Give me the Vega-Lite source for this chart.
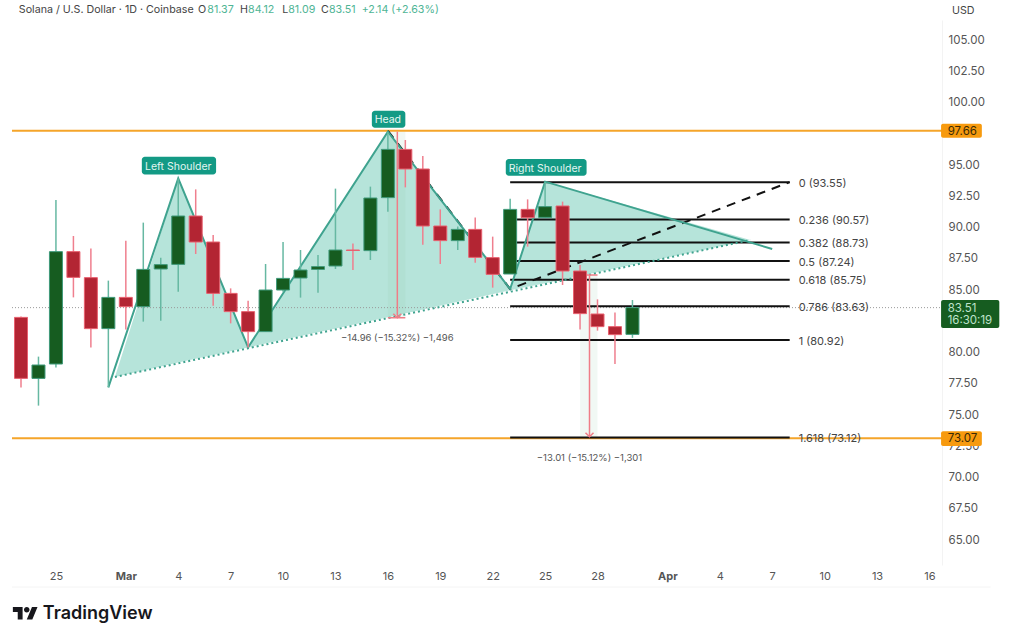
{
  "$schema": "https://vega.github.io/schema/vega-lite/v6.json",
  "width": 930,
  "height": 545,
  "autosize": "none",
  "padding": {"left": 12, "top": 20, "right": 82, "bottom": 67},
  "background": "white",
  "config": {
    "view": {"stroke": null},
    "text": {"font": "Inter", "dy": 1},
    "axis": {"labelFont": "Inter"}
  },
  "datasets": {
    "candles": [
      {"date": "2026-02-23", "open": 82.73, "high": 82.8, "low": 77.13, "close": 77.85},
      {"date": "2026-02-24", "open": 77.85, "high": 79.59, "low": 75.67, "close": 78.92},
      {"date": "2026-02-25", "open": 79.0, "high": 92.12, "low": 78.73, "close": 87.99},
      {"date": "2026-02-26", "open": 87.99, "high": 89.24, "low": 84.33, "close": 85.93},
      {"date": "2026-02-27", "open": 85.91, "high": 88.25, "low": 80.33, "close": 81.83},
      {"date": "2026-02-28", "open": 81.83, "high": 85.67, "low": 77.13, "close": 84.33},
      {"date": "2026-03-01", "open": 84.33, "high": 88.87, "low": 81.77, "close": 83.59},
      {"date": "2026-03-02", "open": 83.59, "high": 90.31, "low": 82.39, "close": 86.57},
      {"date": "2026-03-03", "open": 86.6, "high": 87.51, "low": 82.47, "close": 86.95},
      {"date": "2026-03-04", "open": 86.97, "high": 93.85, "low": 84.79, "close": 90.84},
      {"date": "2026-03-05", "open": 90.84, "high": 92.97, "low": 87.8, "close": 88.76},
      {"date": "2026-03-06", "open": 88.76, "high": 89.32, "low": 83.67, "close": 84.65},
      {"date": "2026-03-07", "open": 84.65, "high": 85.05, "low": 82.25, "close": 83.19},
      {"date": "2026-03-08", "open": 83.19, "high": 84.07, "low": 80.33, "close": 81.59},
      {"date": "2026-03-09", "open": 81.59, "high": 87.0, "low": 81.59, "close": 84.92},
      {"date": "2026-03-10", "open": 84.92, "high": 88.76, "low": 84.79, "close": 85.85},
      {"date": "2026-03-11", "open": 85.88, "high": 88.12, "low": 84.31, "close": 86.52},
      {"date": "2026-03-12", "open": 86.57, "high": 87.72, "low": 84.71, "close": 86.79},
      {"date": "2026-03-13", "open": 86.84, "high": 93.03, "low": 86.6, "close": 88.12},
      {"date": "2026-03-14", "open": 88.12, "high": 88.65, "low": 86.52, "close": 88.08},
      {"date": "2026-03-15", "open": 88.07, "high": 93.19, "low": 87.32, "close": 92.28},
      {"date": "2026-03-16", "open": 92.31, "high": 97.59, "low": 91.19, "close": 96.17},
      {"date": "2026-03-17", "open": 96.17, "high": 96.92, "low": 93.13, "close": 94.6},
      {"date": "2026-03-18", "open": 94.6, "high": 95.64, "low": 88.55, "close": 90.04},
      {"date": "2026-03-19", "open": 90.04, "high": 91.37, "low": 87.0, "close": 88.87},
      {"date": "2026-03-20", "open": 88.87, "high": 90.0, "low": 88.12, "close": 89.77},
      {"date": "2026-03-21", "open": 89.77, "high": 90.73, "low": 87.11, "close": 87.53},
      {"date": "2026-03-22", "open": 87.51, "high": 89.19, "low": 85.11, "close": 86.17},
      {"date": "2026-03-23", "open": 86.2, "high": 92.23, "low": 86.2, "close": 91.37},
      {"date": "2026-03-24", "open": 91.37, "high": 92.17, "low": 88.39, "close": 90.71},
      {"date": "2026-03-25", "open": 90.73, "high": 93.59, "low": 90.73, "close": 91.59},
      {"date": "2026-03-26", "open": 91.64, "high": 91.99, "low": 85.32, "close": 86.44},
      {"date": "2026-03-27", "open": 86.44, "high": 86.92, "low": 81.77, "close": 83.03},
      {"date": "2026-03-28", "open": 83.0, "high": 84.17, "low": 81.67, "close": 81.99},
      {"date": "2026-03-29", "open": 81.99, "high": 83.13, "low": 79.0, "close": 81.35},
      {"date": "2026-03-30", "open": 81.37, "high": 84.12, "low": 81.09, "close": 83.51}
    ],
    "pattern_fill": [
      {"date": "2026-02-28T09:00:00Z", "price": 77.96, "price2": 77.96},
      {"date": "2026-03-04", "price": 93.85, "price2": 79.13},
      {"date": "2026-03-08", "price": 80.33, "price2": 80.33},
      {"date": "2026-03-16", "price": 97.59, "price2": 82.74},
      {"date": "2026-03-23", "price": 85.0, "price2": 84.9},
      {"date": "2026-03-25", "price": 93.59, "price2": 85.46},
      {"date": "2026-04-05T18:00:00Z", "price": 88.92, "price2": 88.92}
    ],
    "pattern_outline": [
      {"date": "2026-02-28", "price": 77.13},
      {"date": "2026-03-04", "price": 93.85},
      {"date": "2026-03-08", "price": 80.33},
      {"date": "2026-03-16", "price": 97.59},
      {"date": "2026-03-23", "price": 85.0},
      {"date": "2026-03-25", "price": 93.59},
      {"date": "2026-04-07", "price": 88.2}
    ],
    "neckline": [
      {"date": "2026-02-28T09:00:00Z", "price": 77.96},
      {"date": "2026-04-05T18:00:00Z", "price": 88.92}
    ],
    "fib_trend": [
      {"date": "2026-03-16", "price": 97.66},
      {"date": "2026-03-23", "price": 85.0},
      {"date": "2026-04-08", "price": 93.55}
    ],
    "fib_levels": [
      {"date": "2026-03-23", "date2": "2026-04-08", "price": 93.55, "label": "0 (93.55)"},
      {"date": "2026-03-23", "date2": "2026-04-08", "price": 90.57, "label": "0.236 (90.57)"},
      {"date": "2026-03-23", "date2": "2026-04-08", "price": 88.73, "label": "0.382 (88.73)"},
      {"date": "2026-03-23", "date2": "2026-04-08", "price": 87.24, "label": "0.5 (87.24)"},
      {"date": "2026-03-23", "date2": "2026-04-08", "price": 85.75, "label": "0.618 (85.75)"},
      {"date": "2026-03-23", "date2": "2026-04-08", "price": 83.63, "label": "0.786 (83.63)"},
      {"date": "2026-03-23", "date2": "2026-04-08", "price": 80.92, "label": "1 (80.92)"},
      {"date": "2026-03-23", "date2": "2026-04-08", "price": 73.12, "label": "1.618 (73.12)"}
    ],
    "levels": [
      {"date": "2026-02-22T11:38:00Z", "date2": "2026-04-16T17:16:00Z", "price": 97.66},
      {"date": "2026-02-22T11:38:00Z", "date2": "2026-04-16T17:16:00Z", "price": 73.07}
    ],
    "last_price": [
      {"date": "2026-02-22T11:38:00Z", "date2": "2026-04-16T17:16:00Z", "price": 83.51}
    ],
    "frame": [
      {"date": "2026-02-22T11:38:00Z", "date2": "2026-04-19T12:00:00Z", "price": 61.16}
    ],
    "measure_bands": [
      {"date": "2026-03-16", "date2": "2026-03-17", "price": 97.59, "price2": 82.7},
      {"date": "2026-03-27", "date2": "2026-03-28", "price": 86.12, "price2": 73.18}
    ],
    "measure_arrows": [
      {"date": "2026-03-16T13:00:00Z", "price": 97.59, "price2": 82.7},
      {"date": "2026-03-27T13:00:00Z", "price": 86.12, "price2": 73.18}
    ],
    "measure_ticks": [
      {"date": "2026-03-16", "date2": "2026-03-17", "price": 82.7},
      {"date": "2026-03-27", "date2": "2026-03-28", "price": 86.12}
    ],
    "measure_tips": [
      {"date": "2026-03-16T13:00:00Z", "price": 82.7},
      {"date": "2026-03-27T13:00:00Z", "price": 73.18}
    ],
    "measure_labels": [
      {"date": "2026-03-16T13:00:00Z", "price": 81.16, "label": "−14.96 (−15.32%) −1,496"},
      {"date": "2026-03-27T13:00:00Z", "price": 71.58, "label": "−13.01 (−15.12%) −1,301"}
    ],
    "pills": [
      {"date": "2026-03-01T22:00:00Z", "date2": "2026-03-06T04:00:00Z", "price": 95.58, "price2": 94.17},
      {"date": "2026-03-15T02:00:00Z", "date2": "2026-03-17T00:00:00Z", "price": 99.26, "price2": 97.9},
      {"date": "2026-03-22T18:00:00Z", "date2": "2026-03-27T09:00:00Z", "price": 95.4, "price2": 94.06}
    ],
    "pill_labels": [
      {"date": "2026-03-04", "price": 94.88, "label": "Left Shoulder"},
      {"date": "2026-03-16", "price": 98.6, "label": "Head"},
      {"date": "2026-03-25", "price": 94.72, "label": "Right Shoulder"}
    ],
    "orange_tags": [
      {"date": "2026-04-16T16:00:00Z", "date2": "2026-04-19T00:00:00Z", "price": 98.22, "price2": 97.1},
      {"date": "2026-04-16T16:00:00Z", "date2": "2026-04-19T00:00:00Z", "price": 73.63, "price2": 72.44}
    ],
    "orange_tag_labels": [
      {"date": "2026-04-17T01:00:00Z", "price": 97.66, "label": "97.66"},
      {"date": "2026-04-17T01:00:00Z", "price": 73.07, "label": "73.07"}
    ],
    "price_tag": [
      {"date": "2026-04-16T16:00:00Z", "date2": "2026-04-20T00:00:00Z", "price": 84.12, "price2": 81.88}
    ],
    "price_tag_labels": [
      {"date": "2026-04-17T01:00:00Z", "price": 83.48, "label": "83.51"},
      {"date": "2026-04-17T01:00:00Z", "price": 82.52, "label": "16:30:19"}
    ],
    "header_dark": [
      {"date": "2026-02-22T21:00:00Z", "price": 107.4, "label": "Solana / U.S. Dollar · 1D · Coinbase"},
      {"date": "2026-03-05T03:00:00Z", "price": 107.4, "label": "O"},
      {"date": "2026-03-07T13:00:00Z", "price": 107.4, "label": "H"},
      {"date": "2026-03-09T23:00:00Z", "price": 107.4, "label": "L"},
      {"date": "2026-03-12T04:00:00Z", "price": 107.4, "label": "C"},
      {"date": "2026-04-17T07:00:00Z", "price": 107.32, "label": "USD"}
    ],
    "header_green": [
      {"date": "2026-03-05T16:00:00Z", "price": 107.4, "label": "81.37"},
      {"date": "2026-03-08T00:00:00Z", "price": 107.4, "label": "84.12"},
      {"date": "2026-03-10T07:00:00Z", "price": 107.4, "label": "81.09"},
      {"date": "2026-03-12T15:00:00Z", "price": 107.4, "label": "83.51"},
      {"date": "2026-03-14T12:00:00Z", "price": 107.4, "label": "+2.14 (+2.63%)"}
    ],
    "brand": [
      {"date": "2026-02-24T06:00:00Z", "price": 59.08, "label": "TradingView"}
    ],
    "brand_logo": [
      {"date": "2026-02-23T06:00:00Z", "price": 59.0}
    ]
  },
  "encoding": {
    "x": {
      "field": "date",
      "type": "temporal",
      "title": null,
      "scale": {
        "type": "utc",
        "nice": false,
        "padding": 0,
        "domain": ["2026-02-22T11:38:00Z", "2026-04-16T17:16:00Z"]
      },
      "axis": {
        "values": [
          "2026-02-25T00:00:00Z", "2026-03-01T00:00:00Z", "2026-03-04T00:00:00Z", "2026-03-07T00:00:00Z",
          "2026-03-10T00:00:00Z", "2026-03-13T00:00:00Z", "2026-03-16T00:00:00Z", "2026-03-19T00:00:00Z",
          "2026-03-22T00:00:00Z", "2026-03-25T00:00:00Z", "2026-03-28T00:00:00Z", "2026-04-01T00:00:00Z",
          "2026-04-04T00:00:00Z", "2026-04-07T00:00:00Z", "2026-04-10T00:00:00Z", "2026-04-13T00:00:00Z",
          "2026-04-16T00:00:00Z"
        ],
        "labelExpr": "utcdate(datum.value) == 1 ? utcFormat(datum.value, '%b') : utcFormat(datum.value, '%-d')",
        "labelFontWeight": {"condition": {"test": "utcdate(datum.value) == 1", "value": "bold"}, "value": "normal"},
        "labelColor": "#555555",
        "labelFontSize": 11,
        "labelPadding": 5,
        "labelFlush": false,
        "labelOverlap": false,
        "ticks": false,
        "domain": false,
        "grid": false
      }
    },
    "y": {
      "field": "price",
      "type": "quantitative",
      "title": null,
      "scale": {"domain": [62.92, 106.52], "nice": false, "zero": false},
      "axis": {
        "orient": "right",
        "values": [65, 67.5, 70, 72.5, 75, 77.5, 80, 82.5, 85, 87.5, 90, 92.5, 95, 97.5, 100, 102.5, 105],
        "format": ".2f",
        "labelColor": "#555555",
        "labelFontSize": 11.5,
        "labelPadding": 6,
        "labelOffset": 1,
        "labelOverlap": false,
        "labelFlush": false,
        "ticks": false,
        "grid": false,
        "domainColor": "#f3f3f3"
      }
    }
  },
  "layer": [
    {
      "data": {"name": "frame"},
      "mark": {"type": "rule", "color": "#f4f4f4", "strokeWidth": 1},
      "encoding": {"x2": {"field": "date2"}}
    },
    {
      "data": {"name": "pattern_fill"},
      "mark": {"type": "area", "color": "#b6e4da"},
      "encoding": {"y2": {"field": "price2"}}
    },
    {
      "data": {"name": "measure_bands"},
      "mark": {"type": "bar", "color": "#8fc9a8", "opacity": 0.13},
      "encoding": {"x2": {"field": "date2"}, "y2": {"field": "price2"}}
    },
    {
      "data": {"name": "levels"},
      "mark": {"type": "rule", "color": "#f5a52a", "strokeWidth": 2},
      "encoding": {"x2": {"field": "date2"}}
    },
    {
      "data": {"name": "last_price"},
      "mark": {"type": "rule", "color": "#9a9a9a", "strokeWidth": 1, "strokeDash": [1, 2]},
      "encoding": {"x2": {"field": "date2"}}
    },
    {
      "data": {"name": "fib_levels"},
      "mark": {"type": "rule", "color": "#111111", "strokeWidth": 2},
      "encoding": {"x2": {"field": "date2"}}
    },
    {
      "data": {"name": "fib_trend"},
      "mark": {"type": "line", "color": "#111111", "strokeWidth": 2, "strokeDash": [9, 7]}
    },
    {
      "data": {"name": "neckline"},
      "mark": {"type": "line", "color": "#3fa38f", "strokeWidth": 2, "strokeDash": [2, 3]}
    },
    {
      "data": {"name": "pattern_outline"},
      "mark": {"type": "line", "color": "#3fa38f", "strokeWidth": 2}
    },
    {
      "data": {"name": "measure_arrows"},
      "mark": {"type": "rule", "color": "#ef7d87", "strokeWidth": 1.5},
      "encoding": {"y2": {"field": "price2"}}
    },
    {
      "data": {"name": "measure_ticks"},
      "mark": {"type": "rule", "color": "#ef7d87", "strokeWidth": 1.5},
      "encoding": {"x2": {"field": "date2"}}
    },
    {
      "data": {"name": "measure_tips"},
      "mark": {
        "type": "point",
        "shape": "M-1,-1L0,0L1,-1",
        "size": 64,
        "filled": false,
        "opacity": 1,
        "color": "#ef7d87",
        "strokeWidth": 1.5
      }
    },
    {
      "data": {"name": "candles"},
      "mark": {"type": "rule", "strokeWidth": 1.5},
      "encoding": {
        "y": {"field": "low"},
        "y2": {"field": "high"},
        "color": {
          "condition": {"test": "datum.close >= datum.open", "value": "#66b8a2"},
          "value": "#ef7f8e"
        }
      }
    },
    {
      "data": {"name": "candles"},
      "mark": {"type": "bar", "size": 13, "strokeWidth": 1},
      "encoding": {
        "y": {"field": "open"},
        "y2": {"field": "close"},
        "color": {
          "condition": {"test": "datum.close >= datum.open", "value": "#165c20"},
          "value": "#b32533"
        },
        "stroke": {
          "condition": {"test": "datum.close >= datum.open", "value": "#3f9a7a"},
          "value": "#e8606f"
        }
      }
    },
    {
      "data": {"name": "fib_levels"},
      "mark": {"type": "text", "align": "left", "dx": 9, "dy": 1.5, "fontSize": 11, "color": "#444444"},
      "encoding": {"x": {"field": "date2", "type": "temporal"}, "text": {"field": "label"}}
    },
    {
      "data": {"name": "measure_labels"},
      "mark": {"type": "text", "fontSize": 9.5, "color": "#555555"},
      "encoding": {"text": {"field": "label"}}
    },
    {
      "data": {"name": "pills"},
      "mark": {"type": "bar", "color": "#139a85", "cornerRadius": 3},
      "encoding": {"x2": {"field": "date2"}, "y2": {"field": "price2"}}
    },
    {
      "data": {"name": "pill_labels"},
      "mark": {"type": "text", "fontSize": 10.5, "color": "#e4f6f1"},
      "encoding": {"text": {"field": "label"}}
    },
    {
      "data": {"name": "orange_tags"},
      "mark": {"type": "bar", "color": "#f79a0e", "cornerRadius": 2},
      "encoding": {"x2": {"field": "date2"}, "y2": {"field": "price2"}}
    },
    {
      "data": {"name": "orange_tag_labels"},
      "mark": {"type": "text", "align": "left", "fontSize": 11.5, "color": "#3a2a05"},
      "encoding": {"text": {"field": "label"}}
    },
    {
      "data": {"name": "price_tag"},
      "mark": {"type": "bar", "color": "#165c20", "cornerRadius": 2},
      "encoding": {"x2": {"field": "date2"}, "y2": {"field": "price2"}}
    },
    {
      "data": {"name": "price_tag_labels"},
      "mark": {"type": "text", "align": "left", "fontSize": 11.5, "color": "#bfe3cb"},
      "encoding": {"text": {"field": "label"}}
    },
    {
      "data": {"name": "header_dark"},
      "mark": {"type": "text", "align": "left", "fontSize": 10.7, "color": "#444444"},
      "encoding": {"text": {"field": "label"}}
    },
    {
      "data": {"name": "header_green"},
      "mark": {"type": "text", "align": "left", "fontSize": 10.7, "color": "#4fb595"},
      "encoding": {"text": {"field": "label"}}
    },
    {
      "data": {"name": "brand"},
      "mark": {"type": "text", "align": "left", "fontSize": 18, "fontWeight": 600, "color": "#17171c"},
      "encoding": {"text": {"field": "label"}}
    },
    {
      "data": {"name": "brand_logo"},
      "mark": {
        "type": "point",
        "shape": "M-0.222,0.444H-0.611V-0.167H-1V-0.556H-0.222ZM0.556,0.444H0.111L0.528,-0.556H0.972ZM-0.111,-0.333a0.222,0.222 0 1,0 0.444,0a0.222,0.222 0 1,0 -0.444,0Z",
        "size": 625,
        "filled": true,
        "opacity": 1,
        "color": "#17171c"
      }
    }
  ]
}
